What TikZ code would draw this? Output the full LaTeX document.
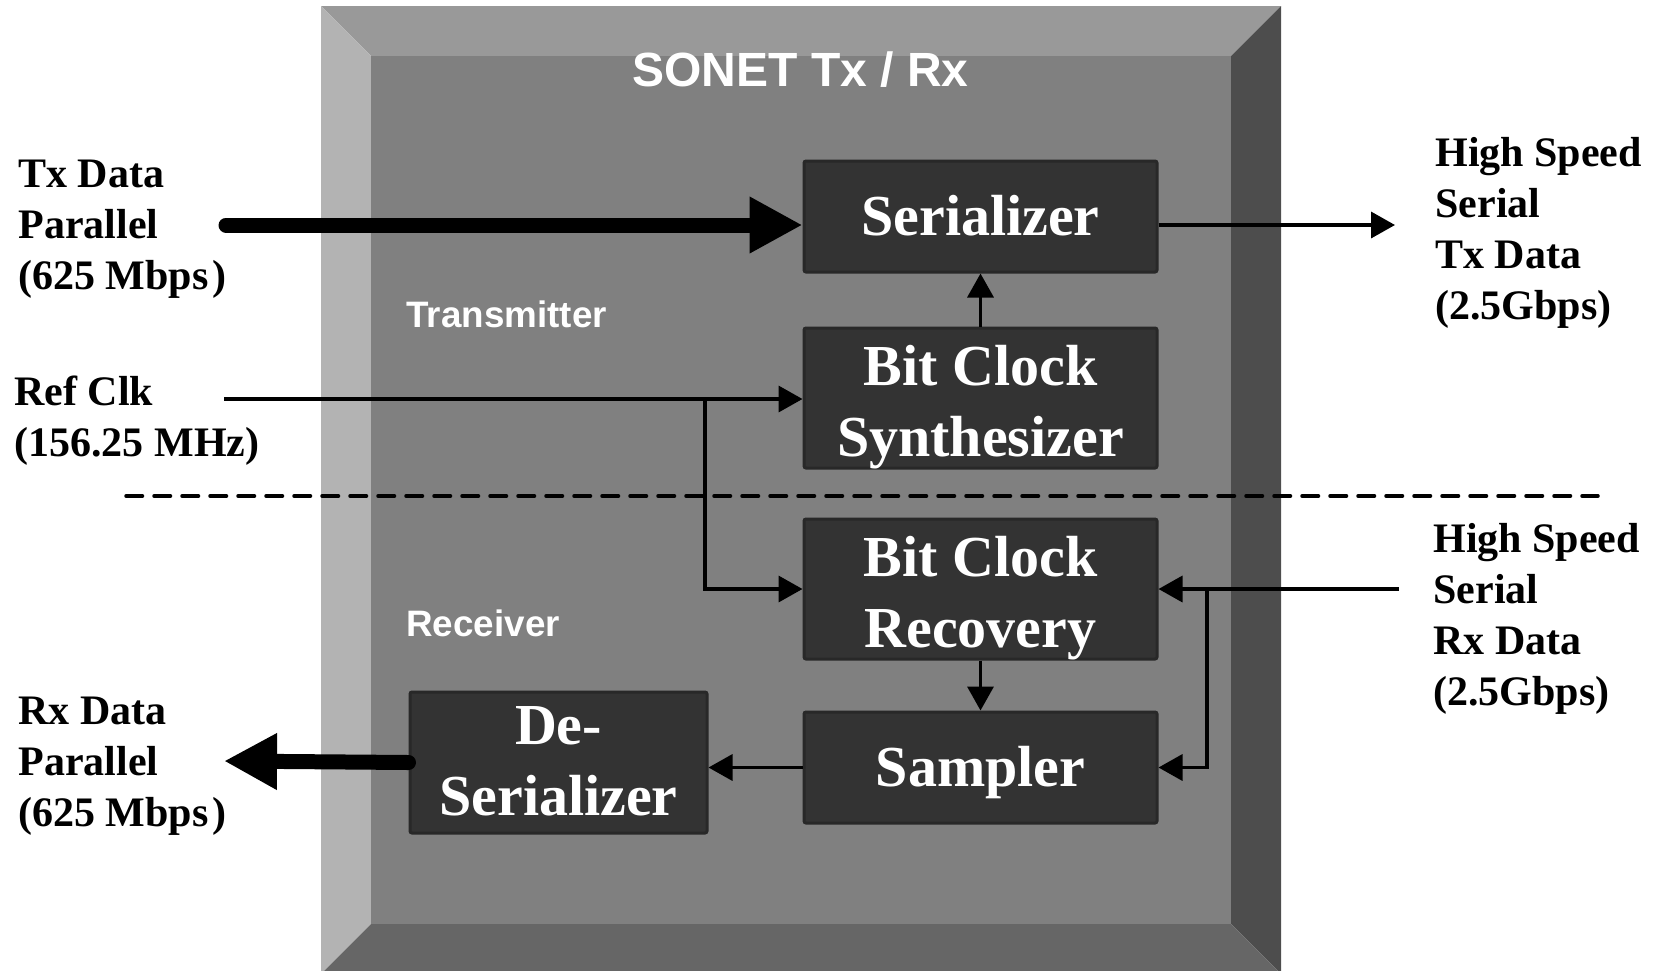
\documentclass[tikz,border=0pt]{standalone}
\usepackage{fontspec}
\setmainfont{Liberation Serif}
\newfontfamily\headfont{Liberation Sans}
\usetikzlibrary{arrows.meta}

\definecolor{bevtop}{HTML}{999999}
\definecolor{bevleft}{HTML}{B3B3B3}
\definecolor{bevright}{HTML}{4D4D4D}
\definecolor{bevbottom}{HTML}{666666}
\definecolor{face}{HTML}{808080}
\definecolor{blockfill}{HTML}{333333}
\definecolor{blockedge}{HTML}{282828}

% left-aligned stack of lines, baseline = first line
\newcommand\lstack[1]{\vtop{\baselineskip=25.5pt\lineskiplimit=-100pt\halign{##\hfil\cr#1\crcr}}}
% centred stack of lines, baseline = first line
\newcommand\cstack[1]{\vtop{\baselineskip=35.5pt\lineskiplimit=-100pt\halign{\hfil##\hfil\cr#1\crcr}}}

\tikzset{
  blk/.style={fill=blockfill, draw=blockedge, line width=1.5pt, rounded corners=1pt,
    inner sep=0pt, text=white, font=\bfseries\fontsize{29}{35.5}\selectfont},
  oneline/.style={blk, text height=19pt, text depth=0pt},
  twoline/.style={blk, text height=0pt, text depth=#1},
  twoline/.default=13pt,
  wide/.style={minimum width=176.5pt},
  extlabel/.style={anchor=base west, inner sep=0pt, font=\bfseries\fontsize{21}{25.5}\selectfont},
  sidelabel/.style={anchor=base west, inner sep=0pt, text=white, font=\headfont\bfseries\fontsize{18.4}{21}\selectfont},
  thin/.style={line width=1.75pt, -{Triangle[length=12pt,width=13pt]}},
  fat/.style={line width=7.5pt, line cap=round, -{Triangle[length=26.5pt,width=26.5pt]}},
  divider/.style={line width=1.75pt, line cap=round, dash pattern=on 8.25pt off 5.75pt},
}

\begin{document}
\begin{tikzpicture}[x=0.5pt,y=-0.5pt]
\useasboundingbox (0,0) rectangle (1654,970);

% bevelled chip outline
\begin{scope}
  \clip (0,0) rectangle (1654,970);
  \fill[bevtop] (321,6) -- (1281,6) -- (1231,56) -- (371,56) -- cycle;
  \fill[bevleft] (321,6) -- (371,56) -- (371,924) -- (321,974) -- cycle;
  \fill[bevright] (1281,6) -- (1281,974) -- (1231,924) -- (1231,56) -- cycle;
  \fill[bevbottom] (371,924) -- (1231,924) -- (1281,974) -- (321,974) -- cycle;
  \fill[face] (371,56) rectangle (1231,924);
\end{scope}

\node[anchor=base, inner sep=0pt, text=white, font=\headfont\bfseries\fontsize{24}{28}\selectfont]
  (title) at (800.5,86) {SONET Tx / Rx};
\node[sidelabel] (txside) at (406,327) {Transmitter};
\node[sidelabel] (rxside) at (406,636) {Receiver};

% functional blocks
\node[oneline, wide, minimum height=55.5pt] (ser) at (980.5,216.5) {Serializer};
\node[twoline, wide, minimum height=70pt] (bcs) at (980.5,398) {\cstack{Bit Clock\cr Synthesizer}};
\node[twoline, wide, minimum height=70pt] (bcr) at (980.5,589) {\cstack{Bit Clock\cr Recovery}};
\node[oneline, wide, minimum height=55.5pt] (smp) at (980.5,767.5) {Sampler};
\node[twoline=18.5pt, minimum width=148.5pt, minimum height=70.5pt] (des) at (558.5,762.5) {\cstack{De-\cr Serializer}};

% external signal labels
\node[extlabel] (txpar) at (18,187) {\lstack{Tx Data\cr Parallel\cr (625 Mbps\kern2pt)}};
\node[extlabel] (refclk) at (14,405) {\lstack{Ref Clk\cr (156.25 MHz)}};
\node[extlabel] (txser) at (1435,166) {\lstack{High Speed\cr Serial\cr Tx Data\cr (2.5Gbps)}};
\node[extlabel] (rxser) at (1433,552) {\lstack{High Speed\cr Serial\cr Rx Data\cr (2.5Gbps)}};
\node[extlabel] (rxpar) at (18,724) {\lstack{Rx Data\cr Parallel\cr (625 Mbps\kern2pt)}};

% connector end points
\coordinate (txin) at (226,225);
\coordinate (txout) at (1395,225);
\coordinate (refin) at (224,399);
\coordinate (reftap) at (705,399);
\coordinate (rxin) at (1399,589);
\coordinate (rxtap) at (1207,589);
\coordinate (rxout) at (224,761);
\coordinate (divl) at (126,496);
\coordinate (divr) at (1598,496);

% transmit path
\draw[fat] (txin) -- (txin -| ser.west);
\draw[thin] (ser.east |- txout) -- (txout);
\draw[thin] (refin) -- (refin -| bcs.west);
\draw[thin] (bcs.north) -- (ser.south);
\draw[thin] (reftap) |- (bcr.west);

% receive path
\draw[thin] (rxin) -- (bcr.east);
\draw[thin] (rxtap) |- (smp.east);
\draw[thin] (bcr.south) -- (smp.north);
\draw[thin] (smp.west) -- (smp.west -| des.east);
\draw[fat] (des.west) -- (rxout);

% transmitter / receiver divider
\draw[divider] (divl) -- (divr);
\end{tikzpicture}
\end{document}
